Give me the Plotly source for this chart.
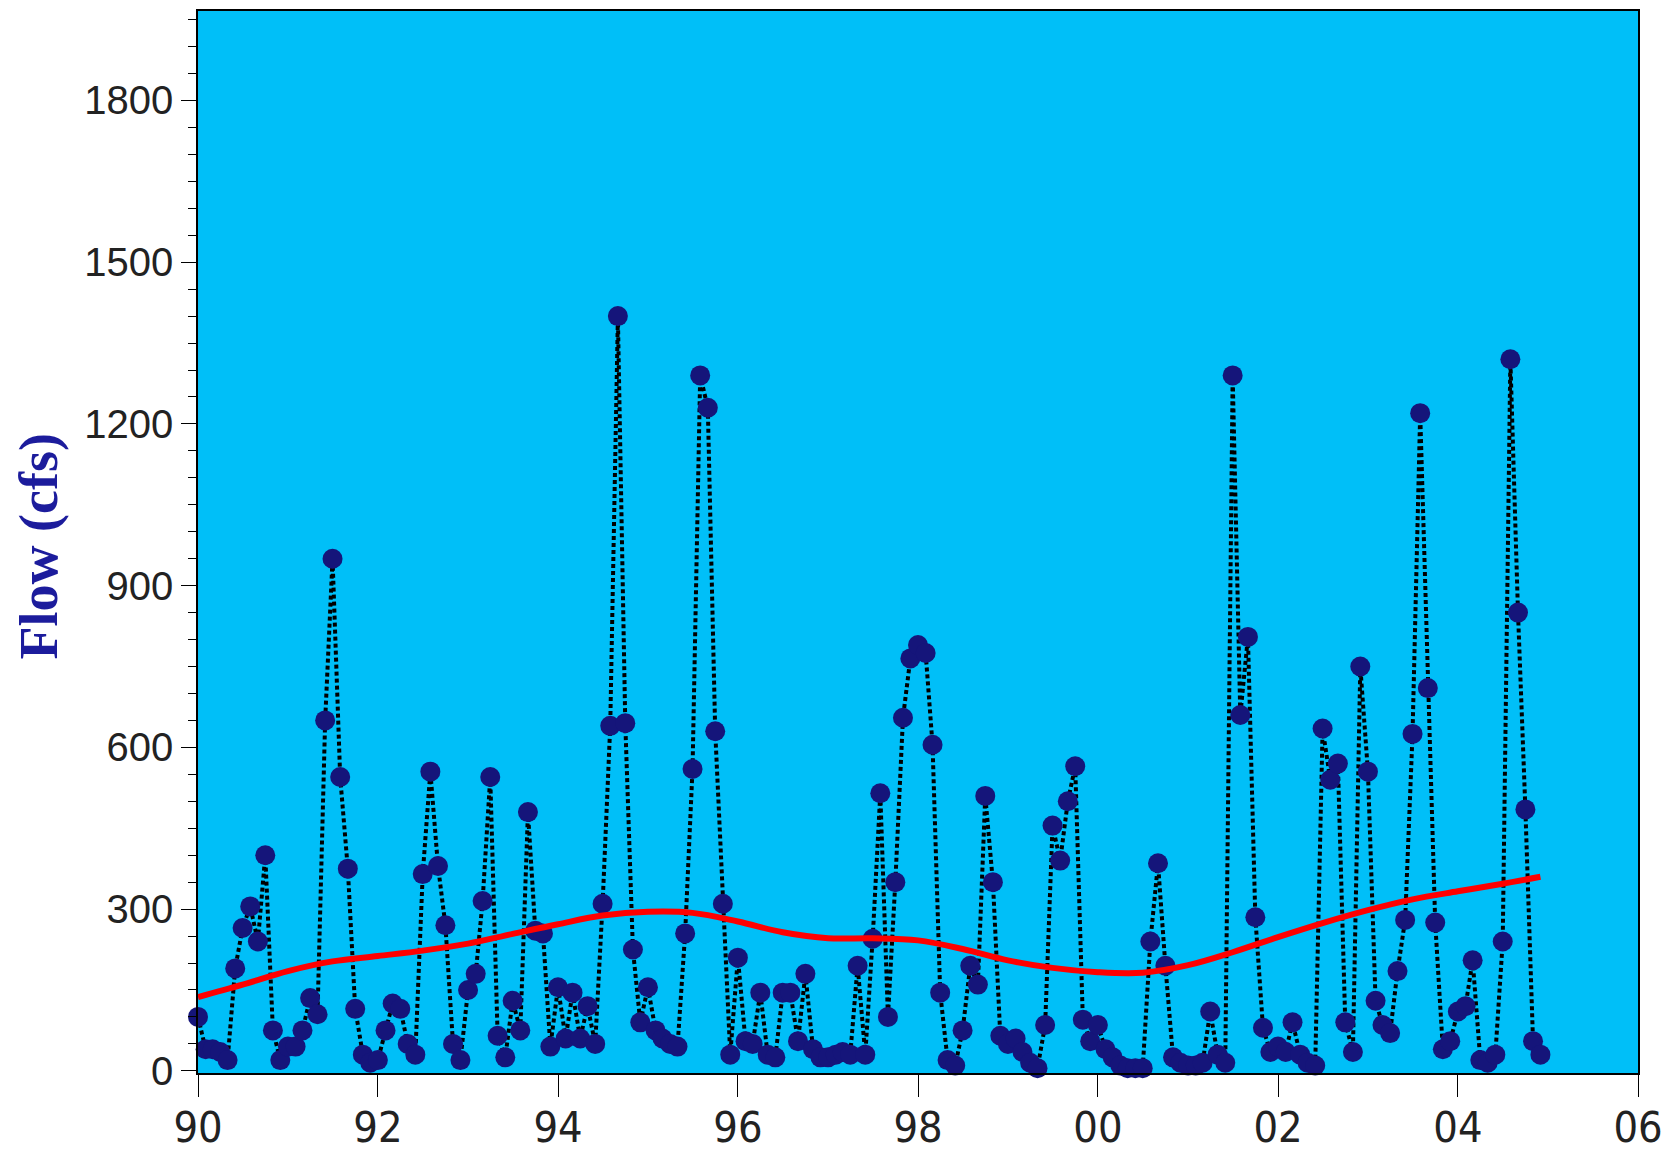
import pandas as pd
import plotly.graph_objects as go

# Monthly flow (cfs), Jan 1990 .. Dec 2004
flow_1990 = [100, 40, 40, 35, 20, 190, 265, 305, 240, 400, 75, 20]
flow_1991 = [45, 45, 75, 135, 105, 650, 950, 545, 375, 115, 30, 15]
flow_1992 = [20, 75, 125, 115, 50, 30, 365, 555, 380, 270, 50, 20]
flow_1993 = [150, 180, 315, 545, 65, 25, 130, 75, 480, 260, 255, 45]
flow_1994 = [155, 60, 145, 60, 120, 50, 310, 640, 1400, 645, 225, 90]
flow_1995 = [155, 75, 60, 50, 45, 255, 560, 1290, 1230, 630, 310, 30]
flow_1996 = [210, 55, 50, 145, 30, 25, 145, 145, 55, 180, 40, 25]
flow_1997 = [25, 30, 35, 30, 195, 30, 245, 515, 100, 350, 655, 765]
flow_1998 = [790, 775, 605, 145, 20, 10, 75, 195, 160, 510, 350, 65]
flow_1999 = [50, 60, 35, 15, 5, 85, 455, 390, 500, 565, 95, 55]
flow_2000 = [85, 40, 25, 10, 5, 5, 5, 240, 385, 195, 25, 15]
flow_2001 = [10, 10, 15, 110, 30, 15, 1290, 660, 805, 285, 80, 35]
flow_2002 = [45, 35, 90, 30, 15, 10, 635, 540, 570, 90, 35, 750]
flow_2003 = [555, 130, 85, 70, 185, 280, 625, 1220, 710, 275, 40, 55]
flow_2004 = [110, 120, 205, 20, 15, 30, 240, 1320, 850, 485, 55, 30]

flow = (flow_1990 + flow_1991 + flow_1992 + flow_1993 + flow_1994 + flow_1995 +
        flow_1996 + flow_1997 + flow_1998 + flow_1999 + flow_2000 + flow_2001 +
        flow_2002 + flow_2003 + flow_2004)
months = pd.date_range("1990-01-01", periods=len(flow), freq="MS")

# Smoothed trend (read at half-year points)
trend_dates = ["1990-01-01", "1990-07-01", "1991-01-01", "1991-07-01", "1992-01-01",
               "1992-07-01", "1993-01-01", "1993-07-01", "1994-01-01", "1994-07-01",
               "1995-01-01", "1995-07-01", "1996-01-01", "1996-07-01", "1997-01-01",
               "1997-07-01", "1998-01-01", "1998-07-01", "1999-01-01", "1999-07-01",
               "2000-01-01", "2000-07-01", "2001-01-01", "2001-07-01", "2002-01-01",
               "2002-07-01", "2003-01-01", "2003-07-01", "2004-01-01", "2004-07-01",
               "2004-12-01"]
trend_vals = [137, 160, 185, 203, 213, 223, 236, 254, 272, 288, 295, 293, 277, 257,
              246, 246, 242, 226, 205, 191, 183, 182, 196, 220, 248, 274, 298, 318,
              333, 347, 360]

y_ticks = [0, 300, 600, 900, 1200, 1500, 1800]

fig = go.Figure()
fig.add_trace(go.Scatter(
    x=months, y=flow, mode="lines+markers",
    line=dict(color="black", width=4, dash="4px,3px"),
    marker=dict(color="#15157A", size=20, line=dict(width=0)),
    cliponaxis=False, showlegend=False,
))
fig.add_trace(go.Scatter(
    x=trend_dates, y=trend_vals, mode="lines",
    line=dict(color="#FF0000", width=6, shape="spline", smoothing=1.0),
    showlegend=False,
))

# page body has an 8px default margin, so the figure is sized to fit inside the window
fig.update_layout(
    width=1669, height=1145,
    margin=dict(l=190, r=39, t=3, b=80, autoexpand=False),
    paper_bgcolor="white",
    plot_bgcolor="#00BFF8",
    xaxis=dict(
        type="date",
        range=["1990-01-01", "2006-01-01"],
        tick0="1990-01-01", dtick="M24", tickformat="%y",
        showgrid=False, zeroline=False, automargin=False,
        showline=True, linecolor="black", linewidth=1.5, mirror=True,
        ticks="outside", ticklen=22, tickwidth=1.2, tickcolor="black",
        ticklabelstandoff=-6,
        tickfont=dict(family="Liberation Sans Narrow, Arial Narrow, DejaVu Sans Condensed, Liberation Sans, Arial",
                      size=43, color="#222222"),
    ),
    yaxis=dict(
        range=[-4, 1966],
        tickvals=y_ticks, ticktext=[str(v) for v in y_ticks],
        showgrid=False, zeroline=False, automargin=False,
        showline=True, linecolor="black", linewidth=1.5, mirror=True,
        ticks="outside", ticklen=15, tickwidth=1.2, tickcolor="black",
        minor=dict(dtick=50, tick0=0, ticks="outside", ticklen=8, tickcolor="black",
                   tickwidth=1, showgrid=False),
        tickfont=dict(family="Liberation Sans, Arial", size=40, color="#222222"),
    ),
    annotations=[dict(
        text="Flow (cfs)", xref="paper", yref="paper",
        x=-0.1103, y=0.496, xanchor="center", yanchor="middle",
        textangle=-90, showarrow=False,
        font=dict(family="Liberation Serif, Times New Roman, serif", size=54,
                  color="#1C1C9C", weight="bold"),
    )],
)

fig.write_html("out.html")
